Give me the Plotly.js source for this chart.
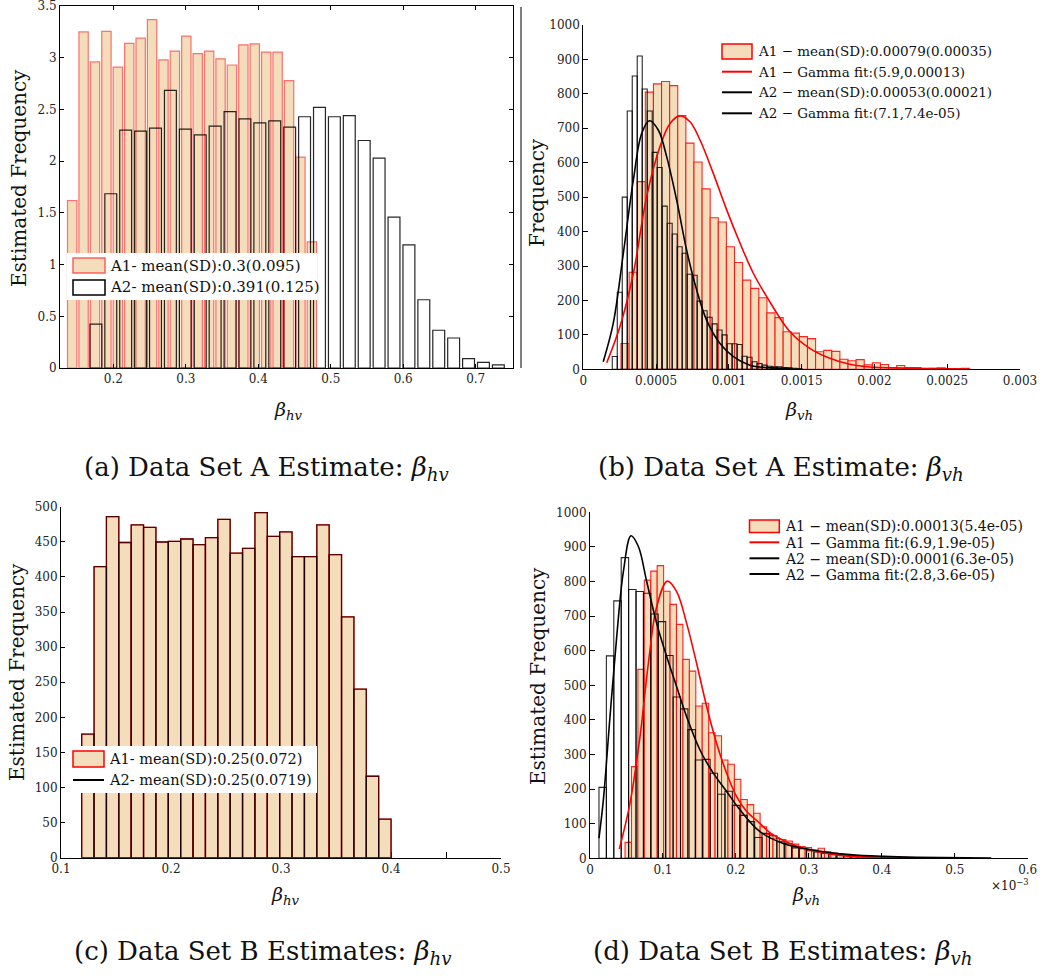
<!DOCTYPE html>
<html><head><meta charset="utf-8">
<script src="https://cdn.plot.ly/plotly-3.0.1.min.js"></script>
<style>html,body{margin:0;padding:0;background:#fff}</style>
</head><body><div id="chart" style="width:1045px;height:976px"></div>
<script>
// ================= DATA =================
// (a) Data Set A estimate: beta_hv  (bar charts, estimated frequency)
const aA1FirstCenter = 0.1432, aA1Step = 0.01575;
const aA1Values = [1.62, 3.25, 2.96, 3.255, 2.91, 3.14, 3.19, 3.37, 2.98, 3.065, 3.21, 3.04, 3.065, 2.99, 2.93, 3.125, 3.135, 3.055, 3.055, 2.78, 2.04, 1.22];
const aA2FirstCenter = 0.1759, aA2Step = 0.02057;
const aA2Values = [0.425, 1.685, 2.30, 2.29, 2.32, 2.685, 2.31, 2.255, 2.34, 2.48, 2.41, 2.37, 2.39, 2.33, 2.43, 2.52, 2.43, 2.44, 2.20, 2.03, 1.46, 1.19, 0.66, 0.365, 0.29, 0.09, 0.055, 0.03];
const aLegend = ['A1- mean(SD):0.3(0.095)', 'A2- mean(SD):0.391(0.125)'];
const aXTicks = [0.2, 0.3, 0.4, 0.5, 0.6, 0.7];
const aYTicks = [0, 0.5, 1, 1.5, 2, 2.5, 3, 3.5];

// (b) Data Set A estimate: beta_vh  (histograms + gamma fits)
const bA1BinStart = 0.000259, bA1BinWidth = 0.0000557;
const bA1Counts = [75, 282, 545, 805, 829, 836, 824, 737, 657, 602, 524, 440, 428, 356, 310, 259, 235, 208, 164, 150, 109, 105, 95, 89, 51, 55, 52, 29, 25, 28, 13, 19, 14, 5, 11, 5, 5, 2, 3, 4, 2, 2, 3];
const bA2BinStart = 0.000199, bA2BinWidth = 0.0000343;
const bA2Counts = [37, 224, 500, 750, 852, 910, 814, 750, 630, 586, 474, 424, 393, 356, 337, 276, 273, 198, 170, 151, 132, 114, 100, 74, 74, 72, 38, 35, 22, 17, 12, 9, 7, 7, 5, 4, 3, 2];
const bA1FitX = [0.000161, 0.000252, 0.000344, 0.000435, 0.000527, 0.000596, 0.000664, 0.000733, 0.000802, 0.000893, 0.000985, 0.001077, 0.001168, 0.00126, 0.00142, 0.001556, 0.001694, 0.001831, 0.001968, 0.0022, 0.00265];
const bA1FitY = [19, 124, 279, 501, 647, 714, 736, 719, 666, 569, 463, 366, 279, 211, 109, 61, 32, 14.5, 6.7, 3.5, 1];
const bA2FitX = [0.000137, 0.000206, 0.000275, 0.000344, 0.000401, 0.000454, 0.000515, 0.000573, 0.000641, 0.00071, 0.000779, 0.000847, 0.000939, 0.001031, 0.001145, 0.00126, 0.001424];
const bA2FitY = [22, 134, 337, 550, 685, 722, 695, 617, 492, 346, 230, 143, 75, 37, 12, 5, 2];
const bLegend = ['A1 \u2212 mean(SD):0.00079(0.00035)', 'A1 \u2212 Gamma fit:(5.9,0.00013)', 'A2 \u2212 mean(SD):0.00053(0.00021)', 'A2 \u2212 Gamma fit:(7.1,7.4e-05)'];
const bXTicks = [0, 0.0005, 0.001, 0.0015, 0.002, 0.0025, 0.003];
const bXTickText = ['0', '0.0005', '0.001', '0.0015', '0.002', '0.0025', '0.003'];

// (c) Data Set B estimates: beta_hv  (histograms, A1 and A2 coincide)
const cBinStart = 0.1188, cBinWidth = 0.01125;
const cA1Counts = [176, 414.5, 486, 449, 474, 470.6, 449.7, 450.6, 454, 446, 456, 482, 434, 440.6, 491.5, 457.7, 464, 429, 429, 474, 431.6, 343, 240, 116, 55];
const cA2Counts = [176, 414.5, 486, 449, 474, 470.6, 449.7, 450.6, 454, 446, 456, 482, 434, 440.6, 491.5, 457.7, 464, 429, 429, 474, 431.6, 343, 240, 116, 55];
const cLegend = ['A1- mean(SD):0.25(0.072)', 'A2- mean(SD):0.25(0.0719)'];

// (d) Data Set B estimates: beta_vh  (x in units of 1e-3)
const dA1BinStart = 0.048, dA1BinWidth = 0.00882;
const dA1Counts = [46, 265, 546, 804, 830, 846, 772, 734, 676, 575, 541, 440, 448, 363, 354, 284, 272, 228, 170, 155, 130, 91, 69, 58, 54, 50, 41, 34, 31, 24, 29, 19, 15, 12, 10, 9, 7, 6, 5, 4, 3, 3, 2, 2, 1, 1];
const dA2BinStart = 0.0123, dA2BinWidth = 0.01016;
const dA2Counts = [205, 585, 744, 869, 777, 771, 766, 706, 684, 586, 466, 432, 372, 284, 286, 246, 185, 194, 153, 124, 106, 60, 72, 65, 48, 42, 30, 28, 22, 18, 14, 12, 10, 8, 7, 6, 5, 4, 3, 3, 2, 2, 1];
const dA1FitX = [0.0402, 0.0548, 0.0685, 0.08, 0.0914, 0.106, 0.1188, 0.1325, 0.1462, 0.16, 0.1736, 0.1873, 0.201, 0.2148, 0.233, 0.2467, 0.274, 0.301, 0.329, 0.356, 0.402, 0.448];
const dA1FitY = [27, 159, 351, 563, 727, 801, 771, 679, 563, 438, 332, 246, 178, 135, 101, 74, 43, 24, 12.5, 5.7, 3, 1.5];
const dA2FitX = [0.0123, 0.0183, 0.0274, 0.0366, 0.0457, 0.0562, 0.0663, 0.0777, 0.0914, 0.1051, 0.1188, 0.1325, 0.1508, 0.169, 0.1873, 0.2056, 0.233, 0.265, 0.311, 0.356, 0.402, 0.448, 0.55];
const dA2FitY = [58, 168, 409, 640, 828, 932, 901, 800, 679, 583, 496, 409, 313, 246, 193, 140, 77, 43, 22, 11, 5.7, 3, 0.5];
const dLegend = ['A1 \u2212 mean(SD):0.00013(5.4e-05)', 'A1 \u2212 Gamma fit:(6.9,1.9e-05)', 'A2 \u2212 mean(SD):0.0001(6.3e-05)', 'A2 \u2212 Gamma fit:(2.8,3.6e-05)'];

const captions = ['(a) Data Set A Estimate: <i>\u03b2</i><sub><i>hv</i></sub>', '(b) Data Set A Estimate: <i>\u03b2</i><sub><i>vh</i></sub>',
                  '(c) Data Set B Estimates: <i>\u03b2</i><sub><i>hv</i></sub>', '(d) Data Set B Estimates: <i>\u03b2</i><sub><i>vh</i></sub>'];

// ================= HELPERS =================
const F = 'DejaVu Serif';
const W = 1045, H = 976;
const X = p => p / W, Y = p => 1 - p / H;
const TAN = 'rgb(243,221,187)';
const seqCenters = (first, step, n) => Array.from({length: n}, (_, i) => first + step * i);
const binCenters = (start, w, n) => Array.from({length: n}, (_, i) => start + w * (i + 0.5));

function bar(x, y, w, xa, ya, fill, edge, ew) {
  return {type: 'bar', x: x, y: y, width: w, xaxis: xa, yaxis: ya, showlegend: false, hoverinfo: 'skip',
          marker: {color: fill, line: {color: edge, width: ew}}};
}
function curve(x, y, xa, ya, color) {
  return {type: 'scatter', mode: 'lines', x: x, y: y, xaxis: xa, yaxis: ya, showlegend: false, hoverinfo: 'skip',
          line: {color: color, width: 1.6, shape: 'spline', smoothing: 1}};
}

const traces = [
  // (a)
  bar(seqCenters(aA1FirstCenter, aA1Step, aA1Values.length), aA1Values, 0.0129, 'x', 'y', TAN, 'rgba(255,70,70,0.75)', 1.2),
  bar(seqCenters(aA2FirstCenter, aA2Step, aA2Values.length), aA2Values, 0.0164, 'x', 'y', 'rgba(0,0,0,0)', 'rgba(0,0,0,0.85)', 1.2),
  // (b)
  bar(binCenters(bA1BinStart, bA1BinWidth, bA1Counts.length), bA1Counts, bA1BinWidth, 'x2', 'y2', TAN, 'rgba(255,0,0,0.85)', 1.1),
  bar(binCenters(bA2BinStart, bA2BinWidth, bA2Counts.length), bA2Counts, bA2BinWidth, 'x2', 'y2', 'rgba(0,0,0,0)', 'rgba(0,0,0,0.85)', 1.1),
  curve(bA1FitX, bA1FitY, 'x2', 'y2', '#ff0000'),
  curve(bA2FitX, bA2FitY, 'x2', 'y2', '#000000'),
  // (c)
  bar(binCenters(cBinStart, cBinWidth, cA1Counts.length), cA1Counts, cBinWidth, 'x3', 'y3', TAN, '#ff0000', 1.3),
  bar(binCenters(cBinStart, cBinWidth, cA2Counts.length), cA2Counts, cBinWidth, 'x3', 'y3', 'rgba(0,0,0,0)', 'rgba(0,0,0,0.65)', 1.3),
  // (d)
  bar(binCenters(dA1BinStart, dA1BinWidth, dA1Counts.length), dA1Counts, dA1BinWidth, 'x4', 'y4', TAN, 'rgba(255,0,0,0.85)', 1.1),
  bar(binCenters(dA2BinStart, dA2BinWidth, dA2Counts.length), dA2Counts, dA2BinWidth, 'x4', 'y4', 'rgba(0,0,0,0)', 'rgba(0,0,0,0.85)', 1.1),
  curve(dA1FitX, dA1FitY, 'x4', 'y4', '#ff0000'),
  curve(dA2FitX, dA2FitY, 'x4', 'y4', '#000000')
];

function ax(extra) {
  return Object.assign({showgrid: false, zeroline: false, showline: true, linecolor: '#000', linewidth: 1,
    ticks: 'inside', ticklen: 4, tickcolor: '#000', tickwidth: 1, fixedrange: true, ticklabeloverflow: 'allow',
    tickfont: {family: F, size: 12, color: '#222'}}, extra);
}

const layout = {
  width: W, height: H, margin: {l: 0, r: 0, t: 0, b: 0},
  paper_bgcolor: '#fff', plot_bgcolor: 'rgba(0,0,0,0)', barmode: 'overlay', showlegend: false,
  font: {family: F, color: '#111'},
  xaxis: ax({domain: [X(60), X(513)], range: [0.1264, 0.7515], tickvals: aXTicks, mirror: 'ticks', anchor: 'y'}),
  yaxis: ax({domain: [Y(368), Y(6)], range: [0, 3.5008], tickvals: aYTicks, mirror: 'ticks', anchor: 'x'}),
  xaxis2: ax({domain: [X(583.3), X(1020)], range: [0, 0.003], tickvals: bXTicks, ticktext: bXTickText, anchor: 'y2', ticklen: 5}),
  yaxis2: ax({domain: [Y(369.3), Y(25)], range: [0, 1000], tick0: 0, dtick: 100, anchor: 'x2', ticklen: 5}),
  xaxis3: ax({domain: [X(61), X(501)], range: [0.1, 0.5], tick0: 0.1, dtick: 0.1, anchor: 'y3', layer: 'below traces', ticklen: 6,
              minor: {ticks: 'inside', dtick: 0.05, tick0: 0.1, ticklen: 6, tickcolor: '#000'}}),
  yaxis3: ax({domain: [Y(857.7), Y(506.7)], range: [0, 500], tick0: 0, dtick: 50, anchor: 'x3', layer: 'below traces', ticklen: 4}),
  xaxis4: ax({domain: [X(590), X(1027.7)], range: [0, 0.6], tick0: 0, dtick: 0.1, anchor: 'y4', ticklen: 5}),
  yaxis4: ax({domain: [Y(858.3), Y(512.3)], range: [0, 1000], tick0: 0, dtick: 100, anchor: 'x4', ticklen: 5}),
  shapes: [], annotations: []
};

function txt(text, xp, yp, size, opts) {
  layout.annotations.push(Object.assign({text: text, x: X(xp), y: Y(yp), xref: 'paper', yref: 'paper', showarrow: false,
    xanchor: 'center', yanchor: 'middle', font: {family: F, size: size, color: '#111'}}, opts || {}));
}
function rect(x0, y0, x1, y1, fill, line, lw) {
  layout.shapes.push({type: 'rect', xref: 'paper', yref: 'paper', x0: X(x0), x1: X(x1), y0: Y(y1), y1: Y(y0),
    fillcolor: fill, line: {color: line, width: lw}, layer: 'above'});
}
function hline(x0, x1, y, color, lw) {
  layout.shapes.push({type: 'line', xref: 'paper', yref: 'paper', x0: X(x0), x1: X(x1), y0: Y(y), y1: Y(y),
    line: {color: color, width: lw}, layer: 'above'});
}

// axis titles
txt('Estimated Frequency', 19, 178, 20, {textangle: -90});
txt('Frequency', 537, 193, 20, {textangle: -90});
txt('Estimated Frequency', 17, 672, 20, {textangle: -90});
txt('Estimated Frequency', 538, 676, 20, {textangle: -90});
txt('<i>\u03b2</i><sub><i>hv</i></sub>', 288, 410, 19);
txt('<i>\u03b2</i><sub><i>vh</i></sub>', 799, 410, 19);
txt('<i>\u03b2</i><sub><i>hv</i></sub>', 285, 895, 19);
txt('<i>\u03b2</i><sub><i>vh</i></sub>', 806, 895, 19);
txt('\u00d710<sup>\u22123</sup>', 1010, 885, 12);

// captions
txt(captions[0], 266, 468, 26);
txt(captions[1], 781, 468, 26);
txt(captions[2], 263, 952, 26);
txt(captions[3], 783, 952, 26);

// legend (a)
rect(67, 253, 317, 300, '#fff', 'rgba(0,0,0,0)', 0);
rect(73, 258, 105, 273, TAN, 'rgba(255,70,70,0.85)', 1.5);
rect(73, 280, 105, 295, '#fff', '#000', 1.5);
txt(aLegend[0], 108, 265.5, 15, {xanchor: 'left'});
txt(aLegend[1], 108, 287.5, 15, {xanchor: 'left'});

// legend (b)
rect(722, 44, 752, 59, TAN, '#ff0000', 1.5);
hline(722, 752, 71.7, '#ff0000', 2);
hline(722, 752, 92.3, '#000', 2);
hline(722, 752, 113.3, '#000', 2);
[51, 72, 92.5, 113].forEach((yy, i) => txt(bLegend[i], 756, yy, 13.5, {xanchor: 'left'}));

// legend (c)
rect(80, 746, 317, 793, '#fff', 'rgba(0,0,0,0)', 0);
rect(73, 751, 104, 767, TAN, '#ff0000', 1.5);
hline(73, 104, 780, '#000', 2);
txt(cLegend[0], 107, 758.5, 14.5, {xanchor: 'left'});
txt(cLegend[1], 107, 779.5, 14.5, {xanchor: 'left'});

// legend (d)
rect(749.5, 520, 779.3, 532.5, TAN, '#ff0000', 1.5);
hline(749.5, 779.3, 542.3, '#ff0000', 2);
hline(749.5, 779.3, 558.3, '#000', 2);
hline(749.5, 779.3, 574, '#000', 2);
[526, 542.5, 558.5, 574.5].forEach((yy, i) => txt(dLegend[i], 782.7, yy, 14, {xanchor: 'left'}));

// thin vertical rule left of panel (b)
layout.shapes.push({type: 'line', xref: 'paper', yref: 'paper', x0: X(521), x1: X(521), y0: Y(368), y1: Y(7),
  line: {color: '#000', width: 1}, layer: 'above'});

Plotly.newPlot('chart', traces, layout, {displayModeBar: false, staticPlot: true});
</script>
</body></html>
